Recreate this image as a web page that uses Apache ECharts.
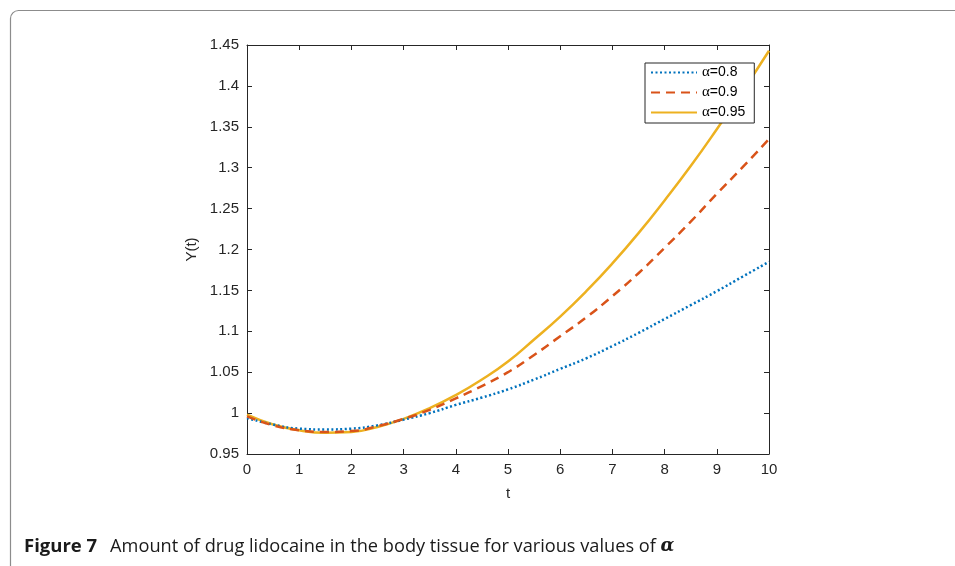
<!DOCTYPE html>
<html>
<head>
<meta charset="utf-8">
<script src="https://cdn.jsdelivr.net/npm/echarts@6/dist/echarts.min.js"></script>
<style>html,body{margin:0;padding:0;background:#fff}#c{width:955px;height:566px}</style>
</head>
<body>
<div id="c"></div>
<script>
const tValues = [0,0.5,1,1.5,2,2.5,3,3.5,4,4.5,5,5.5,6,6.5,7,7.5,8,8.5,9,9.5,10];
const alpha080 = [0.994,0.986,0.981,0.980,0.981,0.985,0.992,1.000,1.010,1.019,1.029,1.041,1.054,1.067,1.082,1.098,1.115,1.132,1.149,1.167,1.185];
const alpha090 = [0.996,0.985,0.979,0.977,0.978,0.984,0.993,1.004,1.018,1.033,1.050,1.071,1.094,1.117,1.143,1.171,1.202,1.234,1.268,1.301,1.335];
const alpha095 = [0.998,0.986,0.979,0.976,0.977,0.983,0.993,1.006,1.022,1.041,1.063,1.090,1.118,1.149,1.183,1.220,1.260,1.302,1.347,1.394,1.443];
const seriesNames = ['α=0.8','α=0.9','α=0.95'];
const xTicks = [0,1,2,3,4,5,6,7,8,9,10];
const yTicks = [0.95,1,1.05,1.1,1.15,1.2,1.25,1.3,1.35,1.4,1.45];

const pair = (ys) => tValues.map((t,i)=>[t, ys[i]]);
const axisColor = '#262626';
const font = "'Liberation Sans', Arial, Helvetica, sans-serif";

const chart = echarts.init(document.getElementById('c'), null, {renderer:'canvas'});
const baseX = {
  type:'value', min:0, max:10, interval:1,
  axisLine:{show:true, onZero:false, lineStyle:{color:axisColor, width:1}},
  axisTick:{show:true, inside:true, length:5, lineStyle:{color:axisColor}},
  splitLine:{show:false}
};
const baseY = {
  type:'value', min:0.95, max:1.45, interval:0.05,
  axisLine:{show:true, onZero:false, lineStyle:{color:axisColor, width:1}},
  axisTick:{show:true, inside:true, length:5, lineStyle:{color:axisColor}},
  splitLine:{show:false}
};
chart.setOption({
  animation:false,
  backgroundColor:'#fff',
  grid:{left:247, right:186, top:45, bottom:112, containLabel:false},
  xAxis:[
    Object.assign({}, baseX, {position:'bottom', name:'t', nameLocation:'middle', nameGap:32,
      nameTextStyle:{fontFamily:font, fontSize:15, color:axisColor},
      axisLabel:{fontFamily:font, fontSize:15, color:axisColor, margin:8,
        formatter:(v)=>String(xTicks.find(x=>Math.abs(x-v)<1e-9) ?? v)}}),
    Object.assign({}, baseX, {position:'top', axisLabel:{show:false}})
  ],
  yAxis:[
    Object.assign({}, baseY, {position:'left', name:'Y(t)', nameLocation:'middle', nameGap:37,
      nameTextStyle:{fontFamily:font, fontSize:15, color:axisColor},
      axisLabel:{fontFamily:font, fontSize:15, color:axisColor, margin:8,
        formatter:(v)=>{const t=yTicks.find(y=>Math.abs(y-v)<1e-9); return String(t!==undefined?t:parseFloat(v.toFixed(2)));}}}),
    Object.assign({}, baseY, {position:'right', axisLabel:{show:false}})
  ],
  legend:{
    show:true, orient:'vertical', left:645, top:63,
    itemWidth:46, itemHeight:12, itemGap:5,
    padding:[2,9,3,5],
    backgroundColor:'#fff', borderColor:axisColor, borderWidth:1, borderRadius:0,
    itemStyle:{opacity:0},
    textStyle:{fontFamily:font, fontSize:14, color:'#000',
      rich:{
        a:{fontFamily:"'Liberation Serif', 'Times New Roman', serif", fontSize:15, color:'#000'},
        b:{fontFamily:font, fontSize:14, color:'#000'}
      }},
    formatter:(name)=>'{a|α}{b|' + name.slice(1) + '}',
    data:seriesNames
  },
  series:[
    {name:seriesNames[0], type:'line', data:pair(alpha080), smooth:true, symbol:'none',
      lineStyle:{color:'#0072BD', width:2.5, type:[2,2.5], cap:'butt'}, itemStyle:{color:'#0072BD'}, z:3},
    {name:seriesNames[1], type:'line', data:pair(alpha090), smooth:true, symbol:'none',
      lineStyle:{color:'#D95319', width:2.5, type:[9,6]}, itemStyle:{color:'#D95319'}, z:4},
    {name:seriesNames[2], type:'line', data:pair(alpha095), smooth:true, symbol:'none',
      lineStyle:{color:'#EDB120', width:2.5, type:'solid'}, itemStyle:{color:'#EDB120'}, z:2}
  ],
  graphic:[
    {type:'rect', left:8, top:8, shape:{width:970, height:580, r:8}, z:-10,
      style:{fill:'none', stroke:'#8c8c8c', lineWidth:1.2}},
    {type:'text', left:24, top:537, z:10,
      style:{
        text:'{b|Figure 7}{n|Amount of drug lidocaine in the body tissue for various values of }{a|α}',
        rich:{
          b:{fontFamily:"'Open Sans', 'Noto Sans', sans-serif", fontWeight:'bold', fontSize:18.5, fill:'#1a1a1a', padding:[0,13,0,0]},
          n:{fontFamily:"'Open Sans', 'Noto Sans', sans-serif", fontSize:18.2, fill:'#1a1a1a'},
          a:{fontFamily:"'DejaVu Serif', serif", fontStyle:'italic', fontWeight:'bold', fontSize:18, fill:'#1a1a1a'}
        }
      }}
  ]
});
</script>
</body>
</html>
